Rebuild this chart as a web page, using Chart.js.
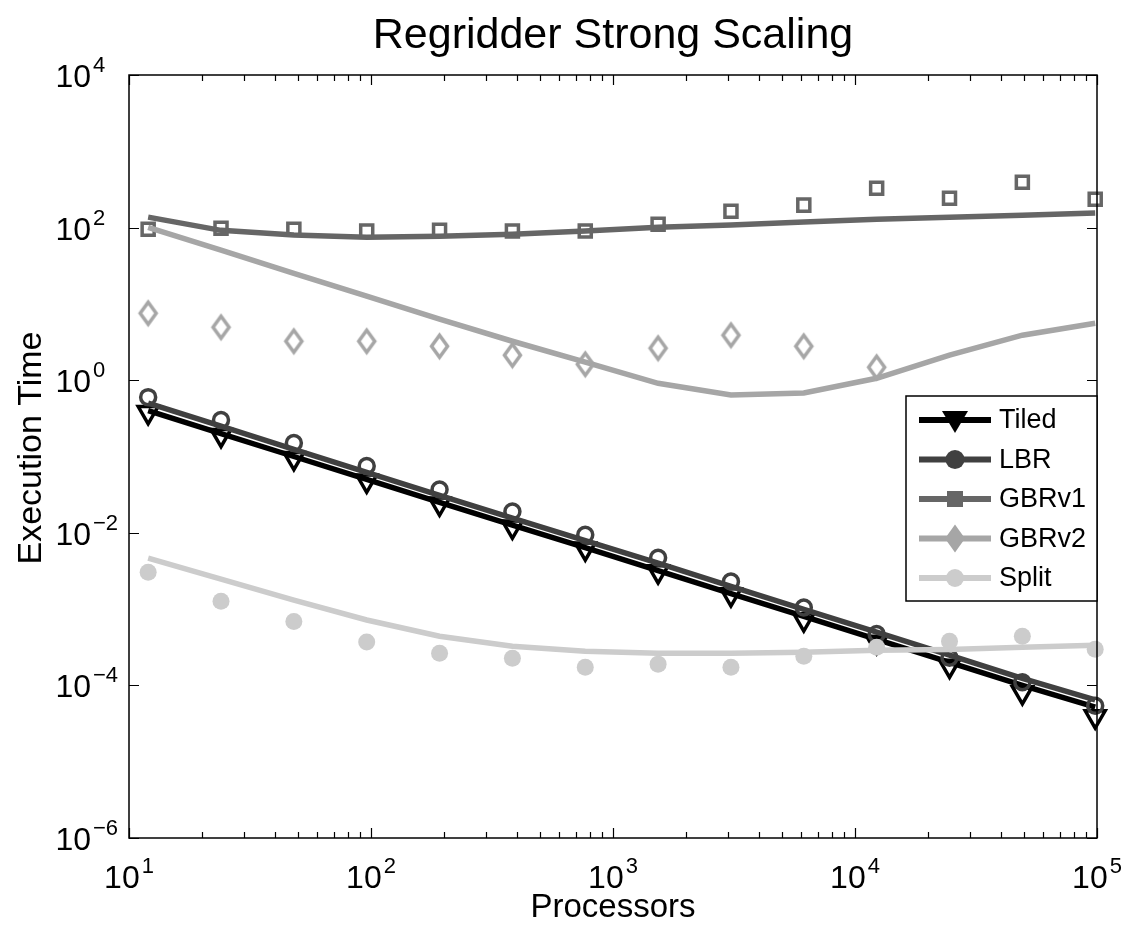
<!DOCTYPE html>
<html>
<head>
<meta charset="utf-8">
<script src="https://cdn.jsdelivr.net/npm/chart.js@4.4.1/dist/chart.umd.min.js"></script>
<style>
  html, body { margin: 0; padding: 0; background: #fff; }
  canvas { display: block; }
</style>
</head>
<body>
<canvas id="scalingChart" width="1125" height="928"></canvas>
<script>
// processor counts (x)
const procs = [12, 24, 48, 96, 192, 384, 768, 1536, 3072, 6144, 12288, 24576, 49152, 98304];

// measured times (markers)
const tiledMeas = [0.38, 0.19, 0.095, 0.048, 0.024, 0.012, 0.0062, 0.0031, 0.00155, 7.3e-4, 3.7e-4, 1.8e-4, 8.1e-5, 3.9e-5];
const lbrMeas = [0.6, 0.3, 0.15, 0.075, 0.037, 0.019, 0.0094, 0.0047, 0.0023, 0.00105, 4.7e-4, 2.3e-4, 1.1e-4, 5.4e-5];
const gbr1Meas = [95, 98, 95, 90, 92, 90, 90, 111, 164, 197, 328, 243, 394, 236];
const gbr2Meas = [7.55, 4.95, 3.24, 3.24, 2.79, 2.13, 1.62, 2.63, 3.89, 2.79, 1.48, null, null, null];
const splitMeas = [3.05e-3, 1.27e-3, 6.9e-4, 3.7e-4, 2.64e-4, 2.27e-4, 1.73e-4, 1.9e-4, 1.73e-4, 2.41e-4, 3.17e-4, 3.8e-4, 4.4e-4, 2.98e-4];

// model times (solid lines)
const tiledModel = [0.40, 0.20, 0.10, 0.050, 0.025, 0.0126, 0.0064, 0.0032, 0.00160, 8.0e-4, 4.0e-4, 2.0e-4, 1.0e-4, 5.2e-5];
const lbrModel = [0.50, 0.25, 0.124, 0.062, 0.031, 0.0156, 0.0079, 0.0040, 0.00198, 9.9e-4, 5.0e-4, 2.5e-4, 1.24e-4, 6.45e-5];
const gbr1Model = [137, 92, 80, 75, 77, 82, 90, 101, 108, 118, 129, 137, 145, 155];
const gbr2Model = [101, 50.6, 25.2, 12.6, 6.3, 3.24, 1.72, 0.91, 0.64, 0.68, 1.06, 2.13, 3.89, 5.58];
const splitModel = [4.65e-3, 2.47e-3, 1.31e-3, 7.2e-4, 4.4e-4, 3.27e-4, 2.81e-4, 2.64e-4, 2.64e-4, 2.72e-4, 2.89e-4, 2.96e-4, 3.16e-4, 3.36e-4];

const seriesNames = ['Tiled', 'LBR', 'GBRv1', 'GBRv2', 'Split'];
const seriesColors = ['#000000', '#404040', '#666666', '#a6a6a6', '#cccccc'];

const xTickExps = [1, 2, 3, 4, 5];
const yTickExps = [4, 2, 0, -2, -4, -6];

const FONT = "'Liberation Sans', Arial, sans-serif";

function pts(values) {
  return procs.map((p, i) => ({ x: p, y: values[i] }));
}

function diamondImage(color, w, h, lw, filled) {
  const c = document.createElement('canvas');
  c.width = w + lw * 2;
  c.height = h + lw * 2;
  const g = c.getContext('2d');
  const cx = c.width / 2, cy = c.height / 2;
  g.beginPath();
  g.moveTo(cx, cy - h / 2);
  g.lineTo(cx + w / 2, cy);
  g.lineTo(cx, cy + h / 2);
  g.lineTo(cx - w / 2, cy);
  g.closePath();
  if (filled) {
    g.fillStyle = color;
    g.fill();
  }
  g.strokeStyle = color;
  g.lineWidth = lw;
  g.stroke();
  return c;
}

const diamondOpen = diamondImage('#a6a6a6', 16, 22, 3.5, false);

function modelLine(values, color, order) {
  return {
    data: pts(values),
    borderColor: color,
    borderWidth: 5.5,
    pointRadius: 0,
    showLine: true,
    tension: 0,
    fill: false,
    order: order
  };
}

function markerSet(values, color, style, radius, order, extra) {
  return Object.assign({
    data: pts(values),
    showLine: false,
    clip: false,
    pointStyle: style,
    pointRadius: radius,
    pointBorderColor: color,
    pointBackgroundColor: 'rgba(0,0,0,0)',
    pointBorderWidth: 3.5,
    order: order
  }, extra || {});
}

function drawPow(ctx, exp, x, y, align) {
  const base = '10';
  const sup = exp < 0 ? '\u2212' + Math.abs(exp) : String(exp);
  ctx.font = '32px ' + FONT;
  const w1 = ctx.measureText(base).width;
  ctx.font = '22px ' + FONT;
  const w2 = ctx.measureText(sup).width;
  let left;
  if (align === 'center') {
    left = x - (w1 + 2 + w2) / 2;
  } else {
    left = x - w1; // "10" right-aligned at x, exponent after it
  }
  ctx.textAlign = 'left';
  ctx.textBaseline = 'alphabetic';
  ctx.font = '32px ' + FONT;
  ctx.fillText(base, left, y);
  ctx.font = '22px ' + FONT;
  ctx.fillText(sup, left + w1 + 2, y - 15);
}

const matlabFrame = {
  id: 'matlabFrame',
  afterDraw(chart) {
    const ctx = chart.ctx;
    const a = chart.chartArea;
    const xs = chart.scales.x;
    const ys = chart.scales.y;
    ctx.save();
    ctx.fillStyle = '#000';
    ctx.strokeStyle = '#000';

    // box
    ctx.lineWidth = 1.5;
    ctx.strokeRect(a.left, a.top, a.right - a.left, a.bottom - a.top);

    // x ticks (major + minor), bottom and top
    ctx.lineWidth = 1.2;
    ctx.beginPath();
    for (let e = 1; e <= 5; e++) {
      for (let m = 1; m <= 9; m++) {
        const v = m * Math.pow(10, e);
        if (v > 1e5) break;
        const px = Math.round(xs.getPixelForValue(v)) + 0.5;
        const len = m === 1 ? 10 : 6;
        ctx.moveTo(px, a.bottom);
        ctx.lineTo(px, a.bottom - len);
        ctx.moveTo(px, a.top);
        ctx.lineTo(px, a.top + len);
      }
    }
    // y ticks, left and right
    yTickExps.forEach(e => {
      const py = Math.round(ys.getPixelForValue(Math.pow(10, e))) + 0.5;
      ctx.moveTo(a.left, py);
      ctx.lineTo(a.left + 10, py);
      ctx.moveTo(a.right, py);
      ctx.lineTo(a.right - 10, py);
    });
    ctx.stroke();

    // tick labels
    xTickExps.forEach(e => {
      drawPow(ctx, e, xs.getPixelForValue(Math.pow(10, e)), 888, 'center');
    });
    yTickExps.forEach(e => {
      drawPow(ctx, e, 91, ys.getPixelForValue(Math.pow(10, e)) + 12, 'right');
    });

    // title and axis labels
    ctx.textAlign = 'center';
    ctx.textBaseline = 'alphabetic';
    ctx.font = '43px ' + FONT;
    ctx.fillText('Regridder Strong Scaling', 613, 48);
    ctx.font = '33px ' + FONT;
    ctx.fillText('Processors', 613, 917);
    ctx.font = '34px ' + FONT;
    ctx.save();
    ctx.translate(41, 448);
    ctx.rotate(-Math.PI / 2);
    ctx.fillText('Execution Time', 0, 0);
    ctx.restore();

    // legend
    const lx = 906, ly = 396, lw = 191, lh = 205;
    ctx.fillStyle = '#fff';
    ctx.fillRect(lx, ly, lw, lh);
    ctx.lineWidth = 1.5;
    ctx.strokeStyle = '#000';
    ctx.strokeRect(lx, ly, lw, lh);
    seriesNames.forEach((name, i) => {
      const y = 420 + i * 39.5;
      const col = seriesColors[i];
      const mx = 955;
      ctx.strokeStyle = col;
      ctx.fillStyle = col;
      ctx.lineWidth = 6;
      ctx.beginPath();
      ctx.moveTo(919, y);
      ctx.lineTo(991, y);
      ctx.stroke();
      ctx.beginPath();
      if (i === 0) {
        ctx.moveTo(mx - 13, y - 9);
        ctx.lineTo(mx + 13, y - 9);
        ctx.lineTo(mx, y + 13);
        ctx.closePath();
        ctx.fill();
      } else if (i === 1) {
        ctx.arc(mx, y, 9.5, 0, Math.PI * 2);
        ctx.fill();
      } else if (i === 2) {
        ctx.rect(mx - 8, y - 8, 16, 16);
        ctx.fill();
      } else if (i === 3) {
        ctx.moveTo(mx, y - 14);
        ctx.lineTo(mx + 10, y);
        ctx.lineTo(mx, y + 14);
        ctx.lineTo(mx - 10, y);
        ctx.closePath();
        ctx.fill();
      } else {
        ctx.arc(mx, y, 9, 0, Math.PI * 2);
        ctx.fill();
      }
      ctx.fillStyle = '#000';
      ctx.font = '27px ' + FONT;
      ctx.textAlign = 'left';
      ctx.textBaseline = 'middle';
      ctx.fillText(name, 999, y + 1);
    });
    ctx.restore();
  }
};

const ctx = document.getElementById('scalingChart').getContext('2d');

new Chart(ctx, {
  type: 'scatter',
  data: {
    datasets: [
      modelLine(tiledModel, seriesColors[0], 20),
      markerSet(tiledMeas, seriesColors[0], 'triangle', 11.5, 19, { pointRotation: 180 }),
      modelLine(lbrModel, seriesColors[1], 18),
      markerSet(lbrMeas, seriesColors[1], 'circle', 7.5, 17),
      modelLine(gbr1Model, seriesColors[2], 16),
      markerSet(gbr1Meas, seriesColors[2], 'rect', 8.5, 15),
      modelLine(gbr2Model, seriesColors[3], 14),
      markerSet(gbr2Meas, seriesColors[3], diamondOpen, 10, 13),
      modelLine(splitModel, seriesColors[4], 12),
      markerSet(splitMeas, seriesColors[4], 'circle', 8.5, 11, { pointBackgroundColor: seriesColors[4], pointBorderWidth: 0 })
    ]
  },
  options: {
    responsive: false,
    animation: false,
    devicePixelRatio: 1,
    layout: {
      padding: { left: 129, top: 75, right: 28, bottom: 90 }
    },
    plugins: {
      legend: { display: false },
      tooltip: { enabled: false },
      title: { display: false }
    },
    scales: {
      x: { type: 'logarithmic', min: 10, max: 1e5, display: false },
      y: { type: 'logarithmic', min: 1e-6, max: 1e4, display: false }
    }
  },
  plugins: [matlabFrame]
});
</script>
</body>
</html>
